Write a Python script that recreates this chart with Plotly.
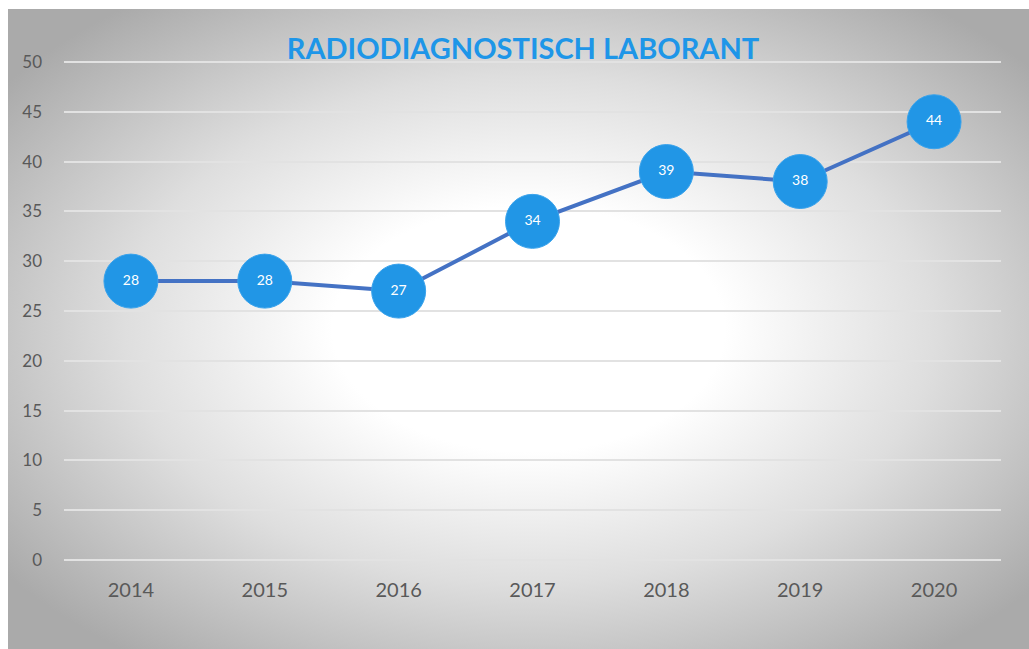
import base64
import plotly.graph_objects as go

years = ["2014", "2015", "2016", "2017", "2018", "2019", "2020"]
values = [28, 28, 27, 34, 39, 38, 44]
y_ticks = [0, 5, 10, 15, 20, 25, 30, 35, 40, 45, 50]
title_text = "RADIODIAGNOSTISCH LABORANT"

W, H = 1029, 649
L, R, T, B = 64, 28, 60, 87
BG_X0, BG_Y0 = 8, 9  # white border on top/left of the chart panel

svg = (
    '<svg xmlns="http://www.w3.org/2000/svg" width="1000" height="1000" viewBox="0 0 1000 1000" preserveAspectRatio="none">'
    '<defs><radialGradient id="g" cx="0.51" cy="0.5" r="0.64" gradientUnits="objectBoundingBox">'
    '<stop offset="0" stop-color="#ffffff"/>'
    '<stop offset="0.3" stop-color="#ffffff"/>'
    '<stop offset="0.62" stop-color="#dedede"/>'
    '<stop offset="1" stop-color="#aaaaaa"/>'
    '</radialGradient></defs>'
    '<rect x="0" y="0" width="1000" height="1000" fill="url(#g)"/></svg>'
)
src = "data:image/svg+xml;base64," + base64.b64encode(svg.encode()).decode()

pw, ph = W - L - R, H - T - B
fig = go.Figure()
fig.add_trace(go.Scatter(
    x=years, y=values,
    mode="lines+markers+text",
    line=dict(color="#4472C4", width=4),
    marker=dict(size=54, color="#2196E6", line=dict(color="#3aa3ec", width=1)),
    text=[str(v) for v in values],
    textposition="middle center",
    textfont=dict(family="Lato, sans-serif", size=14, color="white"),
    cliponaxis=False,
    showlegend=False,
))

fig.update_layout(
    width=W, height=H,
    margin=dict(l=L, r=R, t=T, b=B),
    paper_bgcolor="white",
    plot_bgcolor="rgba(0,0,0,0)",
    images=[dict(source=src, xref="paper", yref="paper",
                 x=(BG_X0 - L) / pw, y=1 + (T - BG_Y0) / ph,
                 sizex=(W - BG_X0) / pw, sizey=(H - BG_Y0) / ph, sizing="stretch",
                 xanchor="left", yanchor="top", layer="below")],
    title=dict(text="<b>" + title_text + "</b>", x=523 / W, xanchor="center",
               y=1 - 49 / H, yanchor="middle",
               font=dict(family="Lato, sans-serif", size=29, color="#1E96E8")),
    xaxis=dict(type="category", range=[-0.5, 6.5], showgrid=False, zeroline=False,
               showline=False, ticks="", ticklabelstandoff=14,
               tickfont=dict(family="Lato, sans-serif", size=20, color="#595959")),
    yaxis=dict(range=[-0.2, 50.2], tickvals=y_ticks, showgrid=True, gridcolor="#e2e2e2",
               gridwidth=2, zeroline=False, showline=False, ticks="",
               ticklabelstandoff=21,
               tickfont=dict(family="Lato, sans-serif", size=17, color="#595959")),
)

fig.write_html("out.html", config={"displayModeBar": False},
               post_script="document.body.style.margin='0';document.documentElement.style.overflow='hidden';document.body.style.overflow='hidden';")
